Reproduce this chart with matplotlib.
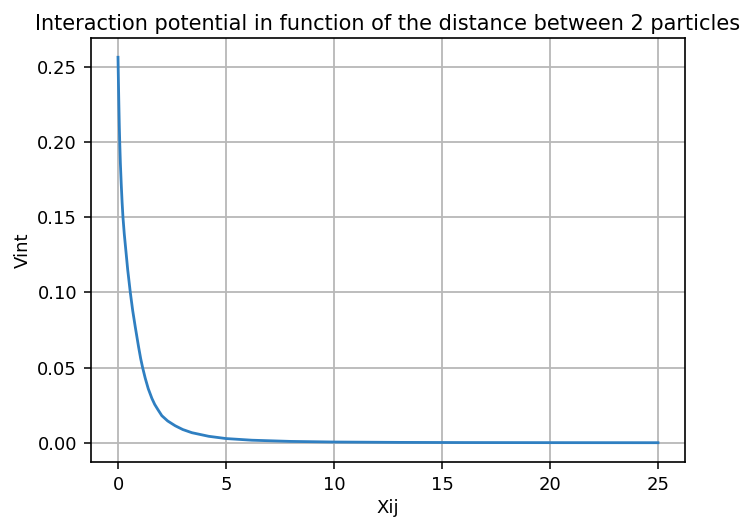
import matplotlib
matplotlib.use('Agg')
import matplotlib.pyplot as plt

# values
xij = [0, 0.02, 0.04, 0.06, 0.08, 0.11, 0.15, 0.19, 0.23, 0.29, 0.35, 0.45, 0.57,
       0.68, 0.8, 0.95, 1.05, 1.14, 1.26, 1.4, 1.57, 1.7, 1.85, 2.03, 2.3, 2.65,
       3.0, 3.42, 4.2, 5.0, 6.2, 8, 10, 13, 16, 20, 25]
vint = [0.2565, 0.24, 0.225, 0.211, 0.20, 0.186, 0.172, 0.16, 0.15, 0.139, 0.13,
        0.115, 0.10, 0.088, 0.077, 0.064, 0.056, 0.05, 0.043, 0.036, 0.0295,
        0.0255, 0.022, 0.018, 0.0145, 0.0113, 0.0088, 0.0067, 0.0043, 0.0028,
        0.0017, 0.0009, 0.0005, 0.00025, 0.00014, 0.00008, 0.00004]

plt.rcParams['font.family'] = 'DejaVu Sans'

fig = plt.figure(figsize=(7.49, 5.29), dpi=100)
ax = fig.add_axes([0.1215, 0.1267, 0.793, 0.8015])
ax.plot(xij, vint, color='#2f7fc1', linewidth=2)
ax.set_xlabel('Xij', fontsize=13)
ax.set_ylabel('Vint', fontsize=13)
ax.set_title('Interaction potential in function of the distance between 2 particles', fontsize=15)
ax.set_xticks([0, 5, 10, 15, 20, 25])
ax.set_yticks([0.00, 0.05, 0.10, 0.15, 0.20, 0.25])
ax.tick_params(labelsize=13, length=5, width=1.1, pad=5)
ax.grid(True, color='#b8b8b8', linewidth=1.3)
for s in ax.spines.values():
    s.set_linewidth(1.2)
fig.savefig('out.png', dpi=100)
